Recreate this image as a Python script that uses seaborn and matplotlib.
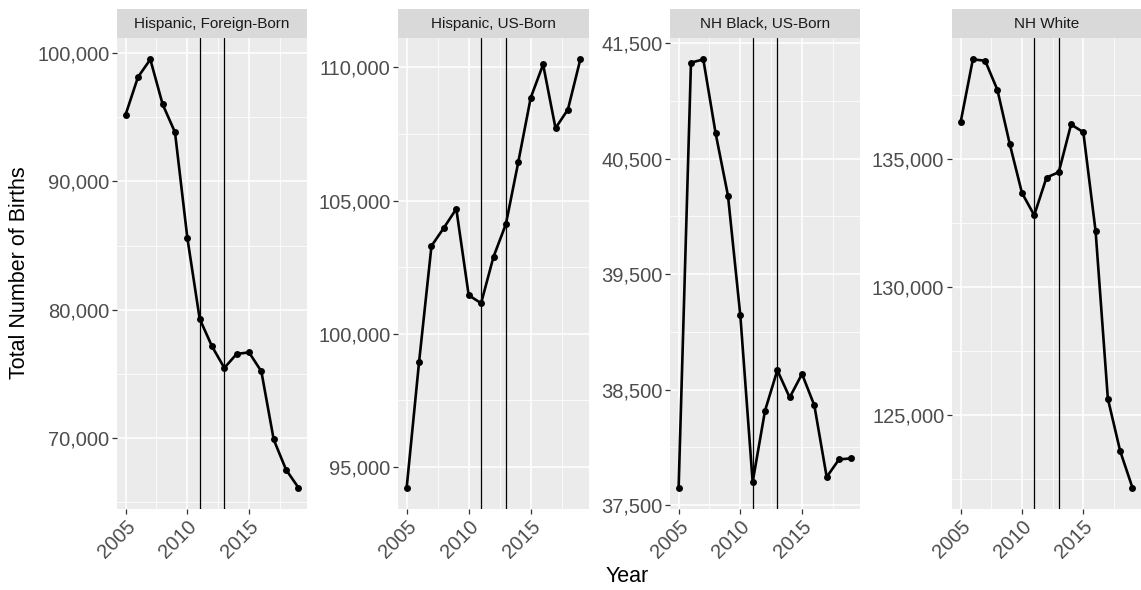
import numpy as np
import pandas as pd
import matplotlib
matplotlib.use("Agg")
import matplotlib.pyplot as plt
import matplotlib.ticker as mticker
import seaborn as sns

# data
years = list(range(2005, 2020))
groups = ["Hispanic, Foreign-Born", "Hispanic, US-Born", "NH Black, US-Born", "NH White"]

hisp_foreign = [95210, 98130, 99510, 96010, 93830, 85610, 79290, 77140,
                75460, 76550, 76670, 75190, 69880, 67530, 66130]
hisp_us = [94230, 98950, 103300, 103980, 104690, 101450, 101150, 102890,
           104120, 106450, 108860, 110110, 107720, 108420, 110300]
black_us = [37652, 41331, 41359, 40718, 40179, 39142, 37700, 38317,
            38668, 38432, 38636, 38363, 37744, 37896, 37905]
white = [136430, 138890, 138840, 137700, 135600, 133680, 132810, 134280,
         134490, 136350, 136050, 132190, 125650, 123610, 122180]

# y tick positions per panel (major ones get labels)
yticks = [
    [70000, 80000, 90000, 100000],
    [95000, 100000, 105000, 110000],
    [37500, 38500, 39500, 40500, 41500],
    [125000, 130000, 135000],
]
xticks = [2005, 2010, 2015]
vlines = [2011, 2013]

df = pd.DataFrame({
    "Year": years * 4,
    "Births": hisp_foreign + hisp_us + black_us + white,
    "Group": np.repeat(groups, len(years)),
})

sns.set_theme(style="darkgrid")
plt.rcParams["font.family"] = ["Liberation Sans", "DejaVu Sans"]

W, H = 1141, 590
fig = plt.figure(figsize=(W / 100, H / 100), dpi=100)

# panel boxes in pixels: left, right
panels = [(117, 307), (398, 589), (670, 860), (952, 1141)]
top, bottom, strip_top = 38, 509, 9

for i, g in enumerate(groups):
    x0, x1 = panels[i]
    ax = fig.add_axes([x0 / W, 1 - bottom / H, (x1 - x0) / W, (bottom - top) / H])
    ax.set_facecolor("#EBEBEB")
    sub = df[df["Group"] == g]
    for v in vlines:
        ax.axvline(v, color="black", lw=0.9, zorder=2)
    sns.lineplot(data=sub, x="Year", y="Births", ax=ax, color="black",
                 lw=1.9, marker="o", markersize=5, markeredgewidth=0, zorder=3)

    # grid like ggplot
    major = yticks[i]
    step = major[1] - major[0]
    minor = [major[0] - step / 2] + [t + step / 2 for t in major]
    ax.yaxis.set_major_locator(mticker.FixedLocator(major))
    ax.yaxis.set_minor_locator(mticker.FixedLocator(minor))
    ax.xaxis.set_major_locator(mticker.FixedLocator(xticks))
    ax.xaxis.set_minor_locator(mticker.FixedLocator([2002.5, 2007.5, 2012.5, 2017.5]))
    ax.yaxis.set_major_formatter(mticker.FuncFormatter(lambda v, p: f"{int(v):,}"))
    ax.set_xlim(2004.3, 2019.7)
    lo, hi = min(sub["Births"]), max(sub["Births"])
    pad = (hi - lo) * 0.05
    ax.set_ylim(lo - pad, hi + pad)

    ax.grid(which="major", color="white", lw=1.1)
    ax.grid(which="minor", color="white", lw=0.55)
    ax.set_axisbelow(True)
    for s in ax.spines.values():
        s.set_visible(False)
    ax.tick_params(axis="both", which="major", length=3.5, width=0.9, color="#333333",
                   labelsize=14.5, labelcolor="#4D4D4D", pad=2, left=True, bottom=True)
    ax.tick_params(axis="both", which="minor", length=0)
    for lab in ax.get_xticklabels():
        lab.set_rotation(45)
        lab.set_ha("right")
        lab.set_va("top")
        lab.set_rotation_mode("anchor")
    ax.set_xlabel("")
    ax.set_ylabel("")

    # facet strip
    sax = fig.add_axes([x0 / W, 1 - top / H, (x1 - x0) / W, (top - strip_top) / H])
    sax.set_facecolor("#D9D9D9")
    sax.set_xticks([])
    sax.set_yticks([])
    for s in sax.spines.values():
        s.set_visible(False)
    sax.text(0.5, 0.48, g, ha="center", va="center", fontsize=11,
             color="#1A1A1A", transform=sax.transAxes)

fig.text(20 / W, 1 - 273 / H, "Total Number of Births", rotation=90,
         ha="center", va="center", fontsize=15.5, color="black")
fig.text(627 / W, 1 - 577 / H, "Year", ha="center", va="center",
         fontsize=15.5, color="black")

fig.savefig("out.png", dpi=100, facecolor="white")
